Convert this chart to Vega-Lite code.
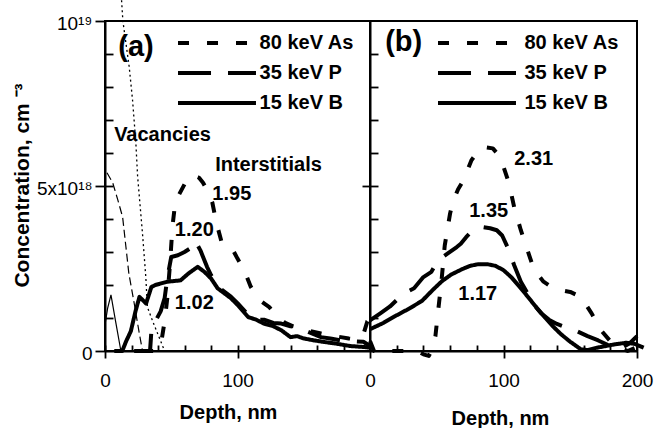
{
  "$schema": "https://vega.github.io/schema/vega-lite/v6.json",
  "background": "white",
  "padding": {"left": 10, "top": -4, "right": 0, "bottom": 0},
  "config": {
    "view": {"stroke": "black", "strokeWidth": 2},
    "axis": {"grid": false, "domainColor": "black", "domainWidth": 2, "tickColor": "black", "tickWidth": 1.8, "labelColor": "black", "labelFont": "Liberation Sans", "labelFontSize": 19, "labelFlush": false, "titleColor": "black", "titleFont": "Liberation Sans", "titleFontWeight": "bold", "titleFontSize": 20},
    "text": {"font": "Liberation Sans", "fontWeight": "bold", "color": "black"}
  },
  "datasets": {
    "curves": [
      {"p":"a","s":"80 keV As","k":"I","d":28,"c":0},{"p":"a","s":"80 keV As","k":"I","d":38,"c":0},{"p":"a","s":"80 keV As","k":"I","d":41,"c":1e17},{"p":"a","s":"80 keV As","k":"I","d":43,"c":4e17},{"p":"a","s":"80 keV As","k":"I","d":45,"c":9e17},{"p":"a","s":"80 keV As","k":"I","d":47,"c":1.6e18},{"p":"a","s":"80 keV As","k":"I","d":49,"c":2.6e18},{"p":"a","s":"80 keV As","k":"I","d":51,"c":3.8e18},{"p":"a","s":"80 keV As","k":"I","d":53,"c":4.5e18},{"p":"a","s":"80 keV As","k":"I","d":56,"c":4.75e18},{"p":"a","s":"80 keV As","k":"I","d":60,"c":5.05e18},{"p":"a","s":"80 keV As","k":"I","d":64,"c":5.3e18},{"p":"a","s":"80 keV As","k":"I","d":68,"c":5.3e18},{"p":"a","s":"80 keV As","k":"I","d":71,"c":5.25e18},{"p":"a","s":"80 keV As","k":"I","d":74,"c":5.1e18},{"p":"a","s":"80 keV As","k":"I","d":78,"c":4.8e18},{"p":"a","s":"80 keV As","k":"I","d":81,"c":4.5e18},{"p":"a","s":"80 keV As","k":"I","d":84,"c":3.9e18},{"p":"a","s":"80 keV As","k":"I","d":88,"c":3.3e18},{"p":"a","s":"80 keV As","k":"I","d":92,"c":3.15e18},{"p":"a","s":"80 keV As","k":"I","d":96,"c":3.1e18},{"p":"a","s":"80 keV As","k":"I","d":100,"c":2.8e18},{"p":"a","s":"80 keV As","k":"I","d":105,"c":2.45e18},{"p":"a","s":"80 keV As","k":"I","d":110,"c":1.95e18},{"p":"a","s":"80 keV As","k":"I","d":113,"c":1.75e18},{"p":"a","s":"80 keV As","k":"I","d":118,"c":1.5e18},{"p":"a","s":"80 keV As","k":"I","d":124,"c":1.33e18},{"p":"a","s":"80 keV As","k":"I","d":130,"c":1.05e18},{"p":"a","s":"80 keV As","k":"I","d":136,"c":8.5e17},{"p":"a","s":"80 keV As","k":"I","d":142,"c":7.5e17},{"p":"a","s":"80 keV As","k":"I","d":148,"c":6.9e17},{"p":"a","s":"80 keV As","k":"I","d":155,"c":6e17},{"p":"a","s":"80 keV As","k":"I","d":163,"c":5.3e17},{"p":"a","s":"80 keV As","k":"I","d":170,"c":4.7e17},{"p":"a","s":"80 keV As","k":"I","d":178,"c":4.2e17},{"p":"a","s":"80 keV As","k":"I","d":184,"c":3.8e17},{"p":"a","s":"80 keV As","k":"I","d":190,"c":3.5e17},{"p":"a","s":"80 keV As","k":"I","d":195,"c":5e17},{"p":"a","s":"80 keV As","k":"I","d":198,"c":9e17},{"p":"a","s":"80 keV As","k":"I","d":200,"c":1e18},
      {"p":"a","s":"35 keV P","k":"I","d":22,"c":0},{"p":"a","s":"35 keV P","k":"I","d":34,"c":0},{"p":"a","s":"35 keV P","k":"I","d":35,"c":6e17},{"p":"a","s":"35 keV P","k":"I","d":38,"c":9e17},{"p":"a","s":"35 keV P","k":"I","d":42,"c":1.2e18},{"p":"a","s":"35 keV P","k":"I","d":45,"c":1.6e18},{"p":"a","s":"35 keV P","k":"I","d":47,"c":2.2e18},{"p":"a","s":"35 keV P","k":"I","d":50,"c":2.85e18},{"p":"a","s":"35 keV P","k":"I","d":55,"c":2.9e18},{"p":"a","s":"35 keV P","k":"I","d":60,"c":3e18},{"p":"a","s":"35 keV P","k":"I","d":64,"c":3.1e18},{"p":"a","s":"35 keV P","k":"I","d":68,"c":3.35e18},{"p":"a","s":"35 keV P","k":"I","d":72,"c":3.05e18},{"p":"a","s":"35 keV P","k":"I","d":77,"c":2.55e18},{"p":"a","s":"35 keV P","k":"I","d":80,"c":2.3e18},{"p":"a","s":"35 keV P","k":"I","d":85,"c":1.95e18},{"p":"a","s":"35 keV P","k":"I","d":90,"c":1.8e18},{"p":"a","s":"35 keV P","k":"I","d":95,"c":1.65e18},{"p":"a","s":"35 keV P","k":"I","d":100,"c":1.45e18},{"p":"a","s":"35 keV P","k":"I","d":108,"c":1.1e18},{"p":"a","s":"35 keV P","k":"I","d":115,"c":9.5e17},{"p":"a","s":"35 keV P","k":"I","d":120,"c":9.5e17},{"p":"a","s":"35 keV P","k":"I","d":127,"c":8.5e17},{"p":"a","s":"35 keV P","k":"I","d":133,"c":8.3e17},{"p":"a","s":"35 keV P","k":"I","d":140,"c":7.5e17},{"p":"a","s":"35 keV P","k":"I","d":145,"c":7.3e17},{"p":"a","s":"35 keV P","k":"I","d":152,"c":6e17},{"p":"a","s":"35 keV P","k":"I","d":158,"c":5e17},{"p":"a","s":"35 keV P","k":"I","d":163,"c":4.2e17},{"p":"a","s":"35 keV P","k":"I","d":170,"c":3.8e17},{"p":"a","s":"35 keV P","k":"I","d":178,"c":3.2e17},{"p":"a","s":"35 keV P","k":"I","d":186,"c":3e17},{"p":"a","s":"35 keV P","k":"I","d":195,"c":2.8e17},{"p":"a","s":"35 keV P","k":"I","d":200,"c":1.5e17},
      {"p":"a","s":"15 keV B","k":"I","d":7,"c":0},{"p":"a","s":"15 keV B","k":"I","d":13,"c":0},{"p":"a","s":"15 keV B","k":"I","d":16,"c":3e17},{"p":"a","s":"15 keV B","k":"I","d":19.5,"c":6e17},{"p":"a","s":"15 keV B","k":"I","d":23,"c":1.2e18},{"p":"a","s":"15 keV B","k":"I","d":26,"c":1.64e18},{"p":"a","s":"15 keV B","k":"I","d":31,"c":1.44e18},{"p":"a","s":"15 keV B","k":"I","d":35,"c":1.94e18},{"p":"a","s":"15 keV B","k":"I","d":38,"c":2e18},{"p":"a","s":"15 keV B","k":"I","d":47,"c":2.1e18},{"p":"a","s":"15 keV B","k":"I","d":57,"c":2.14e18},{"p":"a","s":"15 keV B","k":"I","d":63,"c":2.35e18},{"p":"a","s":"15 keV B","k":"I","d":70,"c":2.55e18},{"p":"a","s":"15 keV B","k":"I","d":75,"c":2.4e18},{"p":"a","s":"15 keV B","k":"I","d":80,"c":2.2e18},{"p":"a","s":"15 keV B","k":"I","d":85,"c":1.9e18},{"p":"a","s":"15 keV B","k":"I","d":90,"c":1.75e18},{"p":"a","s":"15 keV B","k":"I","d":95,"c":1.6e18},{"p":"a","s":"15 keV B","k":"I","d":100,"c":1.4e18},{"p":"a","s":"15 keV B","k":"I","d":108,"c":1.03e18},{"p":"a","s":"15 keV B","k":"I","d":114,"c":9.5e17},{"p":"a","s":"15 keV B","k":"I","d":120,"c":8.3e17},{"p":"a","s":"15 keV B","k":"I","d":127,"c":7.5e17},{"p":"a","s":"15 keV B","k":"I","d":133,"c":6.3e17},{"p":"a","s":"15 keV B","k":"I","d":140,"c":4.2e17},{"p":"a","s":"15 keV B","k":"I","d":145,"c":4.5e17},{"p":"a","s":"15 keV B","k":"I","d":150,"c":3.8e17},{"p":"a","s":"15 keV B","k":"I","d":158,"c":3.2e17},{"p":"a","s":"15 keV B","k":"I","d":166,"c":2.7e17},{"p":"a","s":"15 keV B","k":"I","d":175,"c":2.2e17},{"p":"a","s":"15 keV B","k":"I","d":185,"c":1.5e17},{"p":"a","s":"15 keV B","k":"I","d":196,"c":1.2e17},{"p":"a","s":"15 keV B","k":"I","d":200,"c":1e17},
      {"p":"a","s":"80 keV As","k":"V","d":12.5,"c":1.063e19},{"p":"a","s":"80 keV As","k":"V","d":13.5,"c":1e19},{"p":"a","s":"80 keV As","k":"V","d":18.3,"c":8.6e18},{"p":"a","s":"80 keV As","k":"V","d":20.8,"c":7.6e18},{"p":"a","s":"80 keV As","k":"V","d":23.3,"c":6.3e18},{"p":"a","s":"80 keV As","k":"V","d":24.6,"c":5.3e18},{"p":"a","s":"80 keV As","k":"V","d":26.5,"c":4.4e18},{"p":"a","s":"80 keV As","k":"V","d":28.3,"c":3.56e18},{"p":"a","s":"80 keV As","k":"V","d":30.8,"c":2.24e18},{"p":"a","s":"80 keV As","k":"V","d":32,"c":1.33e18},{"p":"a","s":"80 keV As","k":"V","d":36,"c":9e17},{"p":"a","s":"80 keV As","k":"V","d":40,"c":5e17},{"p":"a","s":"80 keV As","k":"V","d":43,"c":2e17},{"p":"a","s":"80 keV As","k":"V","d":45,"c":0},
      {"p":"a","s":"35 keV P","k":"V","d":1.5,"c":5.4e18},{"p":"a","s":"35 keV P","k":"V","d":5.8,"c":5.1e18},{"p":"a","s":"35 keV P","k":"V","d":9.5,"c":4.6e18},{"p":"a","s":"35 keV P","k":"V","d":13.3,"c":4.06e18},{"p":"a","s":"35 keV P","k":"V","d":15.8,"c":3.15e18},{"p":"a","s":"35 keV P","k":"V","d":18,"c":2.35e18},{"p":"a","s":"35 keV P","k":"V","d":21.8,"c":1.5e18},{"p":"a","s":"35 keV P","k":"V","d":25.6,"c":6e17},{"p":"a","s":"35 keV P","k":"V","d":28.3,"c":0},
      {"p":"a","s":"15 keV B","k":"V","d":0,"c":8e17},{"p":"a","s":"15 keV B","k":"V","d":2,"c":1.3e18},{"p":"a","s":"15 keV B","k":"V","d":4.5,"c":1.7e18},{"p":"a","s":"15 keV B","k":"V","d":8,"c":9e17},{"p":"a","s":"15 keV B","k":"V","d":12,"c":0},
      {"p":"b","s":"80 keV As","k":"I","d":0,"c":3e17},{"p":"b","s":"80 keV As","k":"I","d":3,"c":0},{"p":"b","s":"80 keV As","k":"I","d":20,"c":0},{"p":"b","s":"80 keV As","k":"I","d":35,"c":0},{"p":"b","s":"80 keV As","k":"I","d":40,"c":-1e17},{"p":"b","s":"80 keV As","k":"I","d":44,"c":-1.5e17},{"p":"b","s":"80 keV As","k":"I","d":46,"c":0},{"p":"b","s":"80 keV As","k":"I","d":49,"c":4.5e17},{"p":"b","s":"80 keV As","k":"I","d":51,"c":1.2e18},{"p":"b","s":"80 keV As","k":"I","d":53.5,"c":2.1e18},{"p":"b","s":"80 keV As","k":"I","d":56,"c":3.2e18},{"p":"b","s":"80 keV As","k":"I","d":60,"c":4.17e18},{"p":"b","s":"80 keV As","k":"I","d":62.5,"c":4.57e18},{"p":"b","s":"80 keV As","k":"I","d":66,"c":4.9e18},{"p":"b","s":"80 keV As","k":"I","d":70,"c":5.17e18},{"p":"b","s":"80 keV As","k":"I","d":76,"c":5.78e18},{"p":"b","s":"80 keV As","k":"I","d":80,"c":6e18},{"p":"b","s":"80 keV As","k":"I","d":85,"c":6.18e18},{"p":"b","s":"80 keV As","k":"I","d":92,"c":6.14e18},{"p":"b","s":"80 keV As","k":"I","d":96,"c":5.95e18},{"p":"b","s":"80 keV As","k":"I","d":100,"c":5.58e18},{"p":"b","s":"80 keV As","k":"I","d":104,"c":5.1e18},{"p":"b","s":"80 keV As","k":"I","d":108,"c":4.36e18},{"p":"b","s":"80 keV As","k":"I","d":113,"c":3.66e18},{"p":"b","s":"80 keV As","k":"I","d":118,"c":3.05e18},{"p":"b","s":"80 keV As","k":"I","d":123,"c":2.45e18},{"p":"b","s":"80 keV As","k":"I","d":130,"c":2.1e18},{"p":"b","s":"80 keV As","k":"I","d":136,"c":1.94e18},{"p":"b","s":"80 keV As","k":"I","d":142,"c":1.85e18},{"p":"b","s":"80 keV As","k":"I","d":150,"c":1.79e18},{"p":"b","s":"80 keV As","k":"I","d":158,"c":1.64e18},{"p":"b","s":"80 keV As","k":"I","d":166,"c":1.14e18},{"p":"b","s":"80 keV As","k":"I","d":173,"c":6.3e17},{"p":"b","s":"80 keV As","k":"I","d":180,"c":3e17},{"p":"b","s":"80 keV As","k":"I","d":186,"c":1.2e17},{"p":"b","s":"80 keV As","k":"I","d":193,"c":0},{"p":"b","s":"80 keV As","k":"I","d":200,"c":1.2e17},{"p":"b","s":"80 keV As","k":"I","d":204,"c":0},
      {"p":"b","s":"35 keV P","k":"I","d":0,"c":9.3e17},{"p":"b","s":"35 keV P","k":"I","d":8,"c":1.15e18},{"p":"b","s":"35 keV P","k":"I","d":15,"c":1.35e18},{"p":"b","s":"35 keV P","k":"I","d":25,"c":1.74e18},{"p":"b","s":"35 keV P","k":"I","d":33,"c":1.9e18},{"p":"b","s":"35 keV P","k":"I","d":40,"c":2.24e18},{"p":"b","s":"35 keV P","k":"I","d":46,"c":2.4e18},{"p":"b","s":"35 keV P","k":"I","d":51,"c":2.75e18},{"p":"b","s":"35 keV P","k":"I","d":58,"c":2.95e18},{"p":"b","s":"35 keV P","k":"I","d":65,"c":3.15e18},{"p":"b","s":"35 keV P","k":"I","d":68,"c":3.25e18},{"p":"b","s":"35 keV P","k":"I","d":72,"c":3.45e18},{"p":"b","s":"35 keV P","k":"I","d":77,"c":3.66e18},{"p":"b","s":"35 keV P","k":"I","d":84,"c":3.76e18},{"p":"b","s":"35 keV P","k":"I","d":90,"c":3.72e18},{"p":"b","s":"35 keV P","k":"I","d":95,"c":3.66e18},{"p":"b","s":"35 keV P","k":"I","d":99,"c":3.5e18},{"p":"b","s":"35 keV P","k":"I","d":103,"c":3.15e18},{"p":"b","s":"35 keV P","k":"I","d":108,"c":2.6e18},{"p":"b","s":"35 keV P","k":"I","d":113,"c":2.1e18},{"p":"b","s":"35 keV P","k":"I","d":118,"c":1.75e18},{"p":"b","s":"35 keV P","k":"I","d":123,"c":1.4e18},{"p":"b","s":"35 keV P","k":"I","d":128,"c":1.15e18},{"p":"b","s":"35 keV P","k":"I","d":134,"c":9.5e17},{"p":"b","s":"35 keV P","k":"I","d":140,"c":8.2e17},{"p":"b","s":"35 keV P","k":"I","d":146,"c":7.3e17},{"p":"b","s":"35 keV P","k":"I","d":155,"c":6e17},{"p":"b","s":"35 keV P","k":"I","d":163,"c":4.5e17},{"p":"b","s":"35 keV P","k":"I","d":171,"c":3.2e17},{"p":"b","s":"35 keV P","k":"I","d":180,"c":1.5e17},{"p":"b","s":"35 keV P","k":"I","d":188,"c":8e16},{"p":"b","s":"35 keV P","k":"I","d":195,"c":2.5e17},{"p":"b","s":"35 keV P","k":"I","d":200,"c":4.5e17},
      {"p":"b","s":"15 keV B","k":"I","d":0,"c":6.6e17},{"p":"b","s":"15 keV B","k":"I","d":10,"c":8.5e17},{"p":"b","s":"15 keV B","k":"I","d":19,"c":1.06e18},{"p":"b","s":"15 keV B","k":"I","d":30,"c":1.3e18},{"p":"b","s":"15 keV B","k":"I","d":39,"c":1.52e18},{"p":"b","s":"15 keV B","k":"I","d":47,"c":1.85e18},{"p":"b","s":"15 keV B","k":"I","d":54,"c":2.12e18},{"p":"b","s":"15 keV B","k":"I","d":61,"c":2.32e18},{"p":"b","s":"15 keV B","k":"I","d":69,"c":2.48e18},{"p":"b","s":"15 keV B","k":"I","d":75,"c":2.58e18},{"p":"b","s":"15 keV B","k":"I","d":81,"c":2.63e18},{"p":"b","s":"15 keV B","k":"I","d":88,"c":2.63e18},{"p":"b","s":"15 keV B","k":"I","d":94,"c":2.58e18},{"p":"b","s":"15 keV B","k":"I","d":100,"c":2.45e18},{"p":"b","s":"15 keV B","k":"I","d":106,"c":2.23e18},{"p":"b","s":"15 keV B","k":"I","d":112,"c":1.95e18},{"p":"b","s":"15 keV B","k":"I","d":118.5,"c":1.63e18},{"p":"b","s":"15 keV B","k":"I","d":125,"c":1.3e18},{"p":"b","s":"15 keV B","k":"I","d":131,"c":1.02e18},{"p":"b","s":"15 keV B","k":"I","d":137,"c":7.5e17},{"p":"b","s":"15 keV B","k":"I","d":143,"c":5.1e17},{"p":"b","s":"15 keV B","k":"I","d":150,"c":2.8e17},{"p":"b","s":"15 keV B","k":"I","d":158,"c":5e16},{"p":"b","s":"15 keV B","k":"I","d":163,"c":3e16},{"p":"b","s":"15 keV B","k":"I","d":170,"c":1e17},{"p":"b","s":"15 keV B","k":"I","d":183,"c":2e17},{"p":"b","s":"15 keV B","k":"I","d":192,"c":2.5e17},{"p":"b","s":"15 keV B","k":"I","d":198,"c":2.2e17},{"p":"b","s":"15 keV B","k":"I","d":205,"c":1e17}
    ],
    "notes": [
      {"p":"a","role":"letter","t":"(a)","d":23.4,"c":9.2e18},
      {"p":"a","role":"note","t":"Vacancies","d":43.4,"c":6.54e18},
      {"p":"a","role":"note","t":"Interstitials","d":123.4,"c":5.63e18},
      {"p":"a","role":"note","t":"1.95","d":95.7,"c":4.77e18},
      {"p":"a","role":"note","t":"1.20","d":67.4,"c":3.66e18},
      {"p":"a","role":"note","t":"1.02","d":67.4,"c":1.44e18},
      {"p":"b","role":"letter","t":"(b)","d":25.2,"c":9.35e18},
      {"p":"b","role":"note","t":"2.31","d":122.6,"c":5.83e18},
      {"p":"b","role":"note","t":"1.35","d":88.9,"c":4.24e18},
      {"p":"b","role":"note","t":"1.17","d":80.7,"c":1.72e18}
    ]
  },
  "spacing": 0,
  "bounds": "flush",
  "hconcat": [
    {
      "width": 265,
      "height": 330,
      "layer": [
        {
          "data": {"name": "curves"},
          "transform": [{"filter": "datum.p == 'a' && datum.k == 'I'"}],
          "mark": {"type": "line", "strokeWidth": 4, "color": "black", "strokeJoin": "round"},
          "encoding": {
            "x": {"field": "d", "type": "quantitative", "scale": {"domain": [0, 200], "nice": false, "zero": false},
                  "axis": {"orient": "bottom", "values": [0, 100], "tickSize": 7, "labelPadding": 28, "labelBaseline": "alphabetic", "title": "Depth, nm", "titleX": 123, "titleY": 67.5, "titleBaseline": "alphabetic", "titleAlign": "center", "titleAnchor": null}},
            "y": {"field": "c", "type": "quantitative", "scale": {"domain": [0, 1e19], "nice": false},
                  "axis": {"orient": "left", "values": [0, 5e18, 1e19], "tickSize": 10, "labelPadding": 3, "labelOffset": 2, "labelBaseline": "middle",
                           "labelExpr": "datum.value == 0 ? '0' : (datum.value < 7e18 ? '5x10¹⁸' : '10¹⁹')",
                           "title": "Concentration, cm ⁻³", "titleFontSize": 21, "titleAngle": -90, "titleX": -82.7, "titleY": 164, "titleBaseline": "middle", "titleAlign": "center", "titleAnchor": null}},
            "strokeDash": {"field": "s", "type": "nominal",
                           "scale": {"domain": ["80 keV As", "35 keV P", "15 keV B"], "range": [[11, 18], [33, 17], [1, 0]]},
                           "legend": {"title": null, "orient": "none", "legendX": 73, "legendY": 10, "direction": "vertical", "symbolType": "M-4,0H4", "symbolSize": 380, "symbolOffset": 27, "symbolStrokeWidth": 4, "symbolStrokeColor": "black", "symbolFillColor": "transparent", "labelFont": "Liberation Sans", "labelFontWeight": "bold", "labelFontSize": 20, "labelColor": "black", "labelOffset": 30.6, "rowPadding": 8, "padding": 0, "labelLimit": 300}}
          }
        },
        {
          "data": {"name": "curves"},
          "transform": [{"filter": "datum.p == 'a' && datum.k == 'V' && datum.s == '80 keV As'"}],
          "mark": {"type": "line", "strokeWidth": 1.3, "color": "black", "strokeDash": [2, 3]},
          "encoding": {
            "x": {"field": "d", "type": "quantitative", "axis": {"orient": "bottom", "values": [0, 20, 40, 60, 80, 100, 120, 140, 160, 180, 200], "tickSize": -6, "labels": false, "domain": false, "title": null}},
            "y": {"field": "c", "type": "quantitative", "axis": {"orient": "left", "values": [1e18, 2e18, 3e18, 4e18, 5e18, 6e18, 7e18, 8e18, 9e18], "tickSize": -8, "labels": false, "domain": false, "title": null}}
          }
        },
        {
          "data": {"name": "curves"},
          "transform": [{"filter": "datum.p == 'a' && datum.k == 'V' && datum.s == '35 keV P'"}],
          "mark": {"type": "line", "strokeWidth": 1.2, "color": "black", "strokeDash": [8, 4]},
          "encoding": {
            "x": {"field": "d", "type": "quantitative", "axis": null},
            "y": {"field": "c", "type": "quantitative", "axis": {"orient": "right", "values": [5e18], "tickSize": -8, "labels": false, "domain": false, "title": null}}
          }
        },
        {
          "data": {"name": "curves"},
          "transform": [{"filter": "datum.p == 'a' && datum.k == 'V' && datum.s == '15 keV B'"}],
          "mark": {"type": "line", "strokeWidth": 1.2, "color": "black"},
          "encoding": {
            "x": {"field": "d", "type": "quantitative", "axis": null},
            "y": {"field": "c", "type": "quantitative", "axis": null}
          }
        },
        {
          "data": {"name": "notes"},
          "transform": [{"filter": "datum.p == 'a' && datum.role == 'note'"}],
          "mark": {"type": "text", "fontSize": 20, "align": "center", "baseline": "middle"},
          "encoding": {
            "x": {"field": "d", "type": "quantitative", "axis": null},
            "y": {"field": "c", "type": "quantitative", "axis": null},
            "text": {"field": "t"}
          }
        },
        {
          "data": {"name": "notes"},
          "transform": [{"filter": "datum.p == 'a' && datum.role == 'letter'"}],
          "mark": {"type": "text", "fontSize": 29, "align": "center", "baseline": "middle"},
          "encoding": {
            "x": {"field": "d", "type": "quantitative", "axis": null},
            "y": {"field": "c", "type": "quantitative", "axis": null},
            "text": {"field": "t"}
          }
        }
      ],
      "resolve": {"axis": {"x": "independent", "y": "independent"}}
    },
    {
      "width": 267,
      "height": 330,
      "layer": [
        {
          "data": {"name": "curves"},
          "transform": [{"filter": "datum.p == 'b'"}],
          "mark": {"type": "line", "strokeWidth": 4, "color": "black", "strokeJoin": "round"},
          "encoding": {
            "x": {"field": "d", "type": "quantitative", "scale": {"domain": [0, 200], "nice": false, "zero": false},
                  "axis": {"orient": "bottom", "values": [0, 100, 200], "tickSize": 7, "labelPadding": 28, "labelBaseline": "alphabetic", "title": "Depth, nm", "titleX": 130, "titleY": 73, "titleBaseline": "alphabetic", "titleAlign": "center", "titleAnchor": null}},
            "y": {"field": "c", "type": "quantitative", "scale": {"domain": [0, 1e19], "nice": false},
                  "axis": {"orient": "left", "values": [1e18, 2e18, 3e18, 4e18, 5e18, 6e18, 7e18, 8e18, 9e18], "tickSize": -8, "labels": false, "title": null}},
            "strokeDash": {"field": "s", "type": "nominal",
                           "scale": {"domain": ["80 keV As", "35 keV P", "15 keV B"], "range": [[11, 18], [33, 17], [1, 0]]},
                           "legend": {"title": null, "orient": "none", "legendX": 68, "legendY": 10, "direction": "vertical", "symbolType": "M-4,0H4", "symbolSize": 380, "symbolOffset": 27, "symbolStrokeWidth": 4, "symbolStrokeColor": "black", "symbolFillColor": "transparent", "labelFont": "Liberation Sans", "labelFontWeight": "bold", "labelFontSize": 20, "labelColor": "black", "labelOffset": 35.5, "rowPadding": 8, "padding": 0, "labelLimit": 300}}
          }
        },
        {
          "data": {"name": "notes"},
          "transform": [{"filter": "datum.p == 'b' && datum.role == 'note'"}],
          "mark": {"type": "text", "fontSize": 20, "align": "center", "baseline": "middle"},
          "encoding": {
            "x": {"field": "d", "type": "quantitative", "axis": {"orient": "bottom", "values": [0, 20, 40, 60, 80, 100, 120, 140, 160, 180, 200], "tickSize": -6, "labels": false, "domain": false, "title": null}},
            "y": {"field": "c", "type": "quantitative", "axis": null},
            "text": {"field": "t"}
          }
        },
        {
          "data": {"name": "notes"},
          "transform": [{"filter": "datum.p == 'b' && datum.role == 'letter'"}],
          "mark": {"type": "text", "fontSize": 29, "align": "center", "baseline": "middle"},
          "encoding": {
            "x": {"field": "d", "type": "quantitative", "axis": null},
            "y": {"field": "c", "type": "quantitative", "axis": null},
            "text": {"field": "t"}
          }
        }
      ],
      "resolve": {"axis": {"x": "independent", "y": "independent"}}
    }
  ],
  "resolve": {"scale": {"strokeDash": "independent"}, "legend": {"strokeDash": "independent"}}
}
